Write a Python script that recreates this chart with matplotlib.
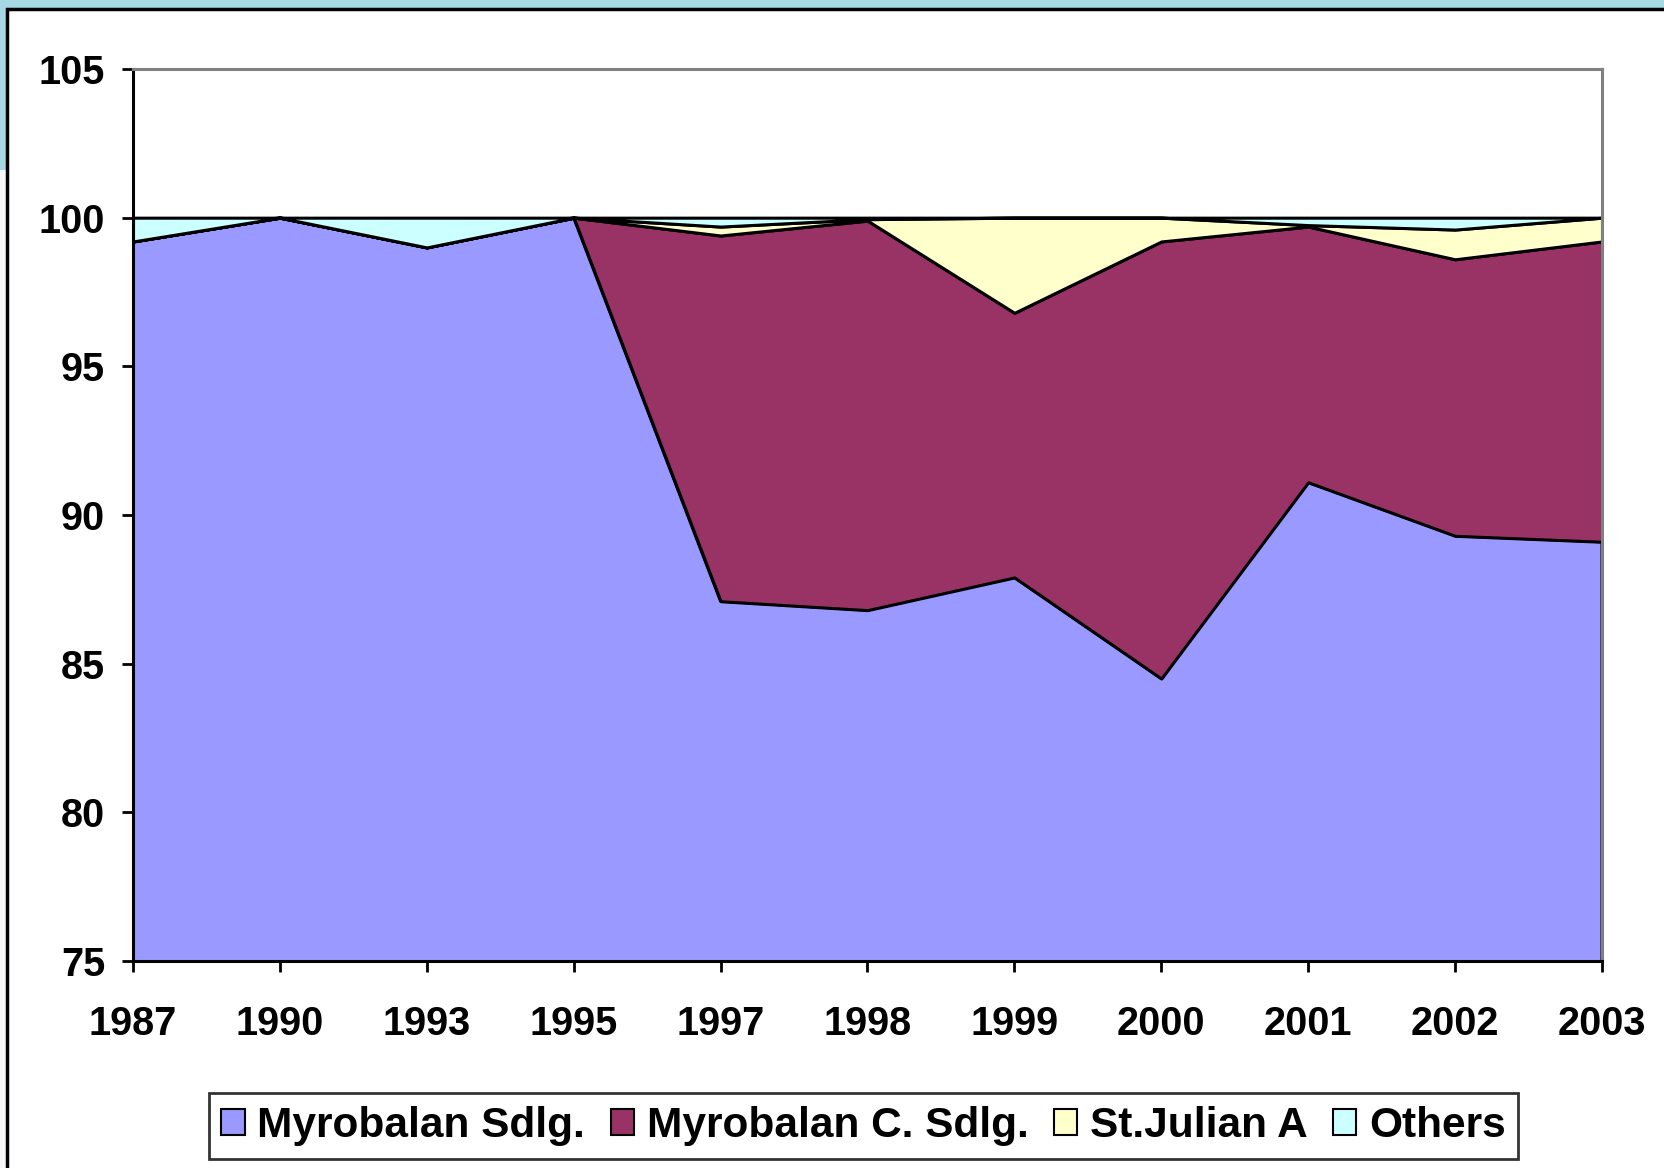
import numpy as np
import matplotlib
matplotlib.use('Agg')
import matplotlib.pyplot as plt
from matplotlib.patches import Rectangle

plt.rcParams['font.family'] = ['Liberation Sans', 'DejaVu Sans']
plt.rcParams['font.weight'] = 'bold'

# data (percent of total)
years = ['1987', '1990', '1993', '1995', '1997', '1998', '1999', '2000', '2001', '2002', '2003']
myrobalan = [99.2, 100.0, 99.0, 100.0, 87.1, 86.8, 87.9, 84.5, 91.1, 89.3, 89.1]
myrobalan_c = [0.0, 0.0, 0.0, 0.0, 12.3, 13.1, 8.9, 14.7, 8.6, 9.3, 10.1]
st_julian = [0.0, 0.0, 0.0, 0.0, 0.3, 0.05, 3.2, 0.8, 0.05, 1.0, 0.8]
others = [0.8, 0.0, 1.0, 0.0, 0.3, 0.05, 0.0, 0.0, 0.25, 0.4, 0.0]
labels = ['Myrobalan Sdlg.', 'Myrobalan C. Sdlg.', 'St.Julian A', 'Others']
colors = ['#9999FF', '#993366', '#FFFFCC', '#CCFFFF']

W, H = 1665, 1168
fig = plt.figure(figsize=(W / 100, H / 100), dpi=100)

# slide background: light blue band with white panel on top
fig.patches.append(Rectangle((0, 0), 1, 1, transform=fig.transFigure,
                             facecolor='#a6d8e4', edgecolor='none', zorder=-10))
fig.patches.append(Rectangle((0, 0), 7 / W, 1 - 170 / H, transform=fig.transFigure,
                             facecolor='#f4f8fa', edgecolor='none', zorder=-9))
fig.patches.append(Rectangle((7 / W, -0.05), 1.1, 1.05 - 9 / H, transform=fig.transFigure,
                             facecolor='white', edgecolor='black', linewidth=2.5, zorder=-8))

ax = fig.add_axes([133 / W, 1 - 961 / H, (1602 - 133) / W, (961 - 69) / H])
ax.set_facecolor('white')

x = np.arange(len(years))
ax.stackplot(x, myrobalan, myrobalan_c, st_julian, others, colors=colors,
             edgecolor='black', linewidth=2.2, labels=labels)

ax.set_xlim(0, len(years) - 1)
ax.set_ylim(75, 105)
ax.set_yticks([75, 80, 85, 90, 95, 100, 105])
ax.set_xticks(x)
ax.set_xticklabels(years)

ax.tick_params(axis='both', direction='out', width=2, length=8, labelsize=28.5)
ax.tick_params(axis='y', pad=12)
ax.tick_params(axis='x', pad=24)

for side in ['left', 'bottom']:
    ax.spines[side].set_color('black')
    ax.spines[side].set_linewidth(2.2)
for side in ['top', 'right']:
    ax.spines[side].set_color('#808080')
    ax.spines[side].set_linewidth(2.2)

leg = fig.legend(loc='center', bbox_to_anchor=((196 + 1531) / 2 / W, 1 - 1126 / H),
                 ncol=4, fontsize=30.5, frameon=True, fancybox=False,
                 handlelength=0.55, handleheight=0.55, handletextpad=0.3,
                 columnspacing=0.6, borderpad=0.3)
leg.get_frame().set_edgecolor('black')
leg.get_frame().set_linewidth(2)
for h in leg.legend_handles:
    h.set_edgecolor('black')
    h.set_linewidth(1.5)

fig.savefig('out.png', dpi=100)
